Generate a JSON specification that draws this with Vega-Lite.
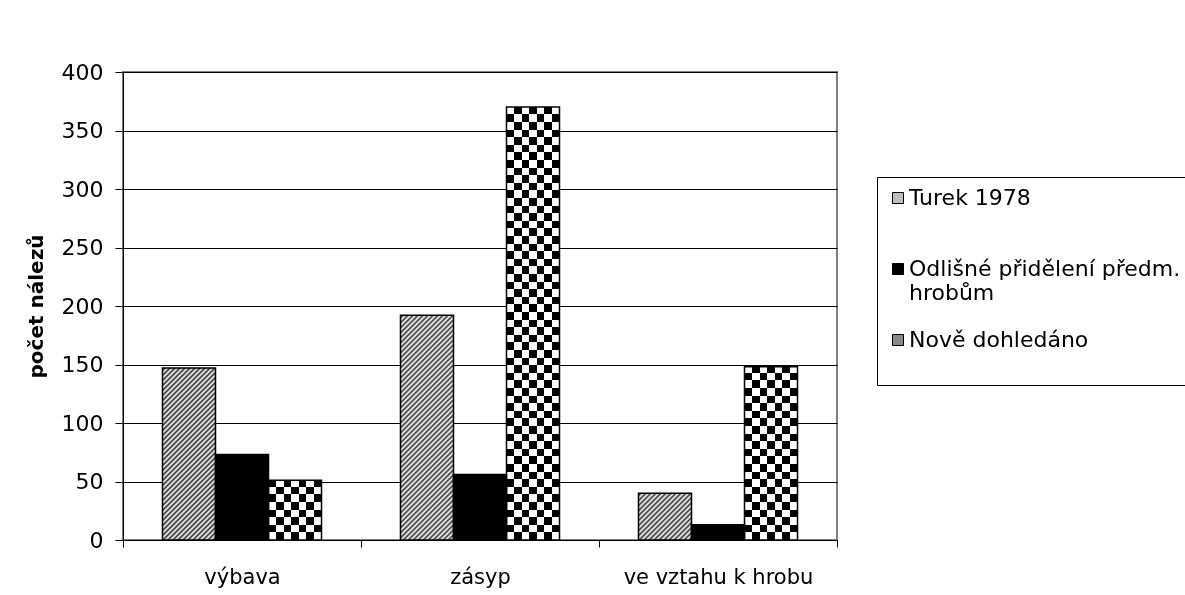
{
  "$schema": "https://vega.github.io/schema/vega-lite/v6.json",
  "width": 714,
  "height": 468,
  "autosize": {"type": "none"},
  "padding": {"left": 123, "top": 72, "right": 348, "bottom": 55},
  "background": "#ffffff",
  "params": [
    {"name": "hs", "value": [
      {"offset":0,"color":"#ffffff"},{"offset":0.00833,"color":"#333333"},{"offset":0.01667,"color":"#ffffff"},{"offset":0.025,"color":"#333333"},{"offset":0.03333,"color":"#ffffff"},{"offset":0.04167,"color":"#333333"},{"offset":0.05,"color":"#ffffff"},{"offset":0.05833,"color":"#333333"},{"offset":0.06667,"color":"#ffffff"},{"offset":0.075,"color":"#333333"},
      {"offset":0.08333,"color":"#ffffff"},{"offset":0.09167,"color":"#333333"},{"offset":0.1,"color":"#ffffff"},{"offset":0.10833,"color":"#333333"},{"offset":0.11667,"color":"#ffffff"},{"offset":0.125,"color":"#333333"},{"offset":0.13333,"color":"#ffffff"},{"offset":0.14167,"color":"#333333"},{"offset":0.15,"color":"#ffffff"},{"offset":0.15833,"color":"#333333"},
      {"offset":0.16667,"color":"#ffffff"},{"offset":0.175,"color":"#333333"},{"offset":0.18333,"color":"#ffffff"},{"offset":0.19167,"color":"#333333"},{"offset":0.2,"color":"#ffffff"},{"offset":0.20833,"color":"#333333"},{"offset":0.21667,"color":"#ffffff"},{"offset":0.225,"color":"#333333"},{"offset":0.23333,"color":"#ffffff"},{"offset":0.24167,"color":"#333333"},
      {"offset":0.25,"color":"#ffffff"},{"offset":0.25833,"color":"#333333"},{"offset":0.26667,"color":"#ffffff"},{"offset":0.275,"color":"#333333"},{"offset":0.28333,"color":"#ffffff"},{"offset":0.29167,"color":"#333333"},{"offset":0.3,"color":"#ffffff"},{"offset":0.30833,"color":"#333333"},{"offset":0.31667,"color":"#ffffff"},{"offset":0.325,"color":"#333333"},
      {"offset":0.33333,"color":"#ffffff"},{"offset":0.34167,"color":"#333333"},{"offset":0.35,"color":"#ffffff"},{"offset":0.35833,"color":"#333333"},{"offset":0.36667,"color":"#ffffff"},{"offset":0.375,"color":"#333333"},{"offset":0.38333,"color":"#ffffff"},{"offset":0.39167,"color":"#333333"},{"offset":0.4,"color":"#ffffff"},{"offset":0.40833,"color":"#333333"},
      {"offset":0.41667,"color":"#ffffff"},{"offset":0.425,"color":"#333333"},{"offset":0.43333,"color":"#ffffff"},{"offset":0.44167,"color":"#333333"},{"offset":0.45,"color":"#ffffff"},{"offset":0.45833,"color":"#333333"},{"offset":0.46667,"color":"#ffffff"},{"offset":0.475,"color":"#333333"},{"offset":0.48333,"color":"#ffffff"},{"offset":0.49167,"color":"#333333"},
      {"offset":0.5,"color":"#ffffff"},{"offset":0.50833,"color":"#333333"},{"offset":0.51667,"color":"#ffffff"},{"offset":0.525,"color":"#333333"},{"offset":0.53333,"color":"#ffffff"},{"offset":0.54167,"color":"#333333"},{"offset":0.55,"color":"#ffffff"},{"offset":0.55833,"color":"#333333"},{"offset":0.56667,"color":"#ffffff"},{"offset":0.575,"color":"#333333"},
      {"offset":0.58333,"color":"#ffffff"},{"offset":0.59167,"color":"#333333"},{"offset":0.6,"color":"#ffffff"},{"offset":0.60833,"color":"#333333"},{"offset":0.61667,"color":"#ffffff"},{"offset":0.625,"color":"#333333"},{"offset":0.63333,"color":"#ffffff"},{"offset":0.64167,"color":"#333333"},{"offset":0.65,"color":"#ffffff"},{"offset":0.65833,"color":"#333333"},
      {"offset":0.66667,"color":"#ffffff"},{"offset":0.675,"color":"#333333"},{"offset":0.68333,"color":"#ffffff"},{"offset":0.69167,"color":"#333333"},{"offset":0.7,"color":"#ffffff"},{"offset":0.70833,"color":"#333333"},{"offset":0.71667,"color":"#ffffff"},{"offset":0.725,"color":"#333333"},{"offset":0.73333,"color":"#ffffff"},{"offset":0.74167,"color":"#333333"},
      {"offset":0.75,"color":"#ffffff"},{"offset":0.75833,"color":"#333333"},{"offset":0.76667,"color":"#ffffff"},{"offset":0.775,"color":"#333333"},{"offset":0.78333,"color":"#ffffff"},{"offset":0.79167,"color":"#333333"},{"offset":0.8,"color":"#ffffff"},{"offset":0.80833,"color":"#333333"},{"offset":0.81667,"color":"#ffffff"},{"offset":0.825,"color":"#333333"},
      {"offset":0.83333,"color":"#ffffff"},{"offset":0.84167,"color":"#333333"},{"offset":0.85,"color":"#ffffff"},{"offset":0.85833,"color":"#333333"},{"offset":0.86667,"color":"#ffffff"},{"offset":0.875,"color":"#333333"},{"offset":0.88333,"color":"#ffffff"},{"offset":0.89167,"color":"#333333"},{"offset":0.9,"color":"#ffffff"},{"offset":0.90833,"color":"#333333"},
      {"offset":0.91667,"color":"#ffffff"},{"offset":0.925,"color":"#333333"},{"offset":0.93333,"color":"#ffffff"},{"offset":0.94167,"color":"#333333"},{"offset":0.95,"color":"#ffffff"},{"offset":0.95833,"color":"#333333"},{"offset":0.96667,"color":"#ffffff"},{"offset":0.975,"color":"#333333"},{"offset":0.98333,"color":"#ffffff"},{"offset":0.99167,"color":"#333333"},
      {"offset":1,"color":"#ffffff"}
    ]},
    {"name": "cs", "value": [
      {"offset":0,"color":"#000000"},
      {"offset":0.016667,"color":"#000000"},{"offset":0.016667,"color":"#ffffff"},{"offset":0.033333,"color":"#ffffff"},{"offset":0.033333,"color":"#000000"},
      {"offset":0.05,"color":"#000000"},{"offset":0.05,"color":"#ffffff"},{"offset":0.066667,"color":"#ffffff"},{"offset":0.066667,"color":"#000000"},
      {"offset":0.083333,"color":"#000000"},{"offset":0.083333,"color":"#ffffff"},{"offset":0.1,"color":"#ffffff"},{"offset":0.1,"color":"#000000"},
      {"offset":0.116667,"color":"#000000"},{"offset":0.116667,"color":"#ffffff"},{"offset":0.133333,"color":"#ffffff"},{"offset":0.133333,"color":"#000000"},
      {"offset":0.15,"color":"#000000"},{"offset":0.15,"color":"#ffffff"},{"offset":0.166667,"color":"#ffffff"},{"offset":0.166667,"color":"#000000"},
      {"offset":0.183333,"color":"#000000"},{"offset":0.183333,"color":"#ffffff"},{"offset":0.2,"color":"#ffffff"},{"offset":0.2,"color":"#000000"},
      {"offset":0.216667,"color":"#000000"},{"offset":0.216667,"color":"#ffffff"},{"offset":0.233333,"color":"#ffffff"},{"offset":0.233333,"color":"#000000"},
      {"offset":0.25,"color":"#000000"},{"offset":0.25,"color":"#ffffff"},{"offset":0.266667,"color":"#ffffff"},{"offset":0.266667,"color":"#000000"},
      {"offset":0.283333,"color":"#000000"},{"offset":0.283333,"color":"#ffffff"},{"offset":0.3,"color":"#ffffff"},{"offset":0.3,"color":"#000000"},
      {"offset":0.316667,"color":"#000000"},{"offset":0.316667,"color":"#ffffff"},{"offset":0.333333,"color":"#ffffff"},{"offset":0.333333,"color":"#000000"},
      {"offset":0.35,"color":"#000000"},{"offset":0.35,"color":"#ffffff"},{"offset":0.366667,"color":"#ffffff"},{"offset":0.366667,"color":"#000000"},
      {"offset":0.383333,"color":"#000000"},{"offset":0.383333,"color":"#ffffff"},{"offset":0.4,"color":"#ffffff"},{"offset":0.4,"color":"#000000"},
      {"offset":0.416667,"color":"#000000"},{"offset":0.416667,"color":"#ffffff"},{"offset":0.433333,"color":"#ffffff"},{"offset":0.433333,"color":"#000000"},
      {"offset":0.45,"color":"#000000"},{"offset":0.45,"color":"#ffffff"},{"offset":0.466667,"color":"#ffffff"},{"offset":0.466667,"color":"#000000"},
      {"offset":0.483333,"color":"#000000"},{"offset":0.483333,"color":"#ffffff"},{"offset":0.5,"color":"#ffffff"},{"offset":0.5,"color":"#000000"},
      {"offset":0.516667,"color":"#000000"},{"offset":0.516667,"color":"#ffffff"},{"offset":0.533333,"color":"#ffffff"},{"offset":0.533333,"color":"#000000"},
      {"offset":0.55,"color":"#000000"},{"offset":0.55,"color":"#ffffff"},{"offset":0.566667,"color":"#ffffff"},{"offset":0.566667,"color":"#000000"},
      {"offset":0.583333,"color":"#000000"},{"offset":0.583333,"color":"#ffffff"},{"offset":0.6,"color":"#ffffff"},{"offset":0.6,"color":"#000000"},
      {"offset":0.616667,"color":"#000000"},{"offset":0.616667,"color":"#ffffff"},{"offset":0.633333,"color":"#ffffff"},{"offset":0.633333,"color":"#000000"},
      {"offset":0.65,"color":"#000000"},{"offset":0.65,"color":"#ffffff"},{"offset":0.666667,"color":"#ffffff"},{"offset":0.666667,"color":"#000000"},
      {"offset":0.683333,"color":"#000000"},{"offset":0.683333,"color":"#ffffff"},{"offset":0.7,"color":"#ffffff"},{"offset":0.7,"color":"#000000"},
      {"offset":0.716667,"color":"#000000"},{"offset":0.716667,"color":"#ffffff"},{"offset":0.733333,"color":"#ffffff"},{"offset":0.733333,"color":"#000000"},
      {"offset":0.75,"color":"#000000"},{"offset":0.75,"color":"#ffffff"},{"offset":0.766667,"color":"#ffffff"},{"offset":0.766667,"color":"#000000"},
      {"offset":0.783333,"color":"#000000"},{"offset":0.783333,"color":"#ffffff"},{"offset":0.8,"color":"#ffffff"},{"offset":0.8,"color":"#000000"},
      {"offset":0.816667,"color":"#000000"},{"offset":0.816667,"color":"#ffffff"},{"offset":0.833333,"color":"#ffffff"},{"offset":0.833333,"color":"#000000"},
      {"offset":0.85,"color":"#000000"},{"offset":0.85,"color":"#ffffff"},{"offset":0.866667,"color":"#ffffff"},{"offset":0.866667,"color":"#000000"},
      {"offset":0.883333,"color":"#000000"},{"offset":0.883333,"color":"#ffffff"},{"offset":0.9,"color":"#ffffff"},{"offset":0.9,"color":"#000000"},
      {"offset":0.916667,"color":"#000000"},{"offset":0.916667,"color":"#ffffff"},{"offset":0.933333,"color":"#ffffff"},{"offset":0.933333,"color":"#000000"},
      {"offset":0.95,"color":"#000000"},{"offset":0.95,"color":"#ffffff"},{"offset":0.966667,"color":"#ffffff"},{"offset":0.966667,"color":"#000000"},
      {"offset":0.983333,"color":"#000000"},{"offset":0.983333,"color":"#ffffff"},{"offset":1,"color":"#ffffff"}
    ]}
  ],
  "data": {
    "values": [
      {"kat": "výbava", "serie": "Turek 1978", "n": 147},
      {"kat": "výbava", "serie": "Odlišné přidělení předm. hrobům", "n": 73},
      {"kat": "výbava", "serie": "Nově dohledáno", "n": 51},
      {"kat": "zásyp", "serie": "Turek 1978", "n": 192},
      {"kat": "zásyp", "serie": "Odlišné přidělení předm. hrobům", "n": 56},
      {"kat": "zásyp", "serie": "Nově dohledáno", "n": 370},
      {"kat": "ve vztahu k hrobu", "serie": "Turek 1978", "n": 40},
      {"kat": "ve vztahu k hrobu", "serie": "Odlišné přidělení předm. hrobům", "n": 13},
      {"kat": "ve vztahu k hrobu", "serie": "Nově dohledáno", "n": 148}
    ]
  },
  "encoding": {
    "x": {
      "field": "kat", "type": "nominal",
      "sort": ["výbava", "zásyp", "ve vztahu k hrobu"],
      "scale": {"paddingInner": 0, "paddingOuter": 0},
      "axis": {
        "title": null, "labelAngle": 0, "tickBand": "extent", "tickSize": 7,
        "labelFontSize": 21, "labelPadding": 19, "labelLimit": 400, "grid": false
      }
    },
    "xOffset": {
      "field": "serie", "type": "nominal",
      "scale": {"domain": ["Turek 1978", "Odlišné přidělení předm. hrobům", "Nově dohledáno"], "paddingInner": 0, "paddingOuter": 0.745}
    },
    "y": {
      "field": "n", "type": "quantitative", "stack": null,
      "scale": {"domain": [0, 400], "nice": false},
      "axis": {
        "title": "počet nálezů", "values": [0, 50, 100, 150, 200, 250, 300, 350, 400],
        "grid": true, "gridColor": "#000000", "gridWidth": 1, "tickSize": 8,
        "labelFontSize": 22, "labelPadding": 12,
        "titleFontSize": 20, "titleFontWeight": "bold", "titlePadding": 15
      }
    }
  },
  "layer": [
    {
      "mark": {"type": "bar"},
      "encoding": {
        "color": {
          "field": "serie", "type": "nominal",
          "scale": {
            "domain": ["Turek 1978", "Odlišné přidělení předm. hrobům", "Nově dohledáno"],
            "range": ["#bdbdbd", "#000000", "#8a8a8a"]
          },
          "legend": {
            "orient": "none", "legendX": 754, "legendY": 105, "title": null,
            "strokeColor": "#000000", "padding": 10,
            "symbolType": "square", "symbolSize": 121, "symbolStrokeColor": "#000000", "symbolStrokeWidth": 1,
            "labelFontSize": 22, "labelColor": "#000000", "labelOffset": 0, "labelLimit": 500,
            "rowPadding": 25,
            "labelExpr": "datum.label == 'Odlišné přidělení předm. hrobům' ? ['Odlišné přidělení předm.', 'hrobům'] : [datum.label, '']"
          }
        }
      }
    },
    {
      "transform": [{"filter": "datum.serie == 'Turek 1978'"}],
      "mark": {
        "type": "bar",
        "fill": {"expr": "{gradient: 'linear', x1: 0, y1: 0, x2: 300*bandwidth('xOffset')/(pow(bandwidth('xOffset'),2)+pow(scale('y',0)-scale('y',datum.n),2)), y2: 300*(scale('y',0)-scale('y',datum.n))/(pow(bandwidth('xOffset'),2)+pow(scale('y',0)-scale('y',datum.n),2)), stops: hs}"}
      }
    },
    {
      "transform": [{"filter": "datum.serie == 'Nově dohledáno'"}],
      "mark": {
        "type": "bar",
        "fill": {"expr": "{gradient: 'linear', x1: 0, y1: 1, x2: 0, y2: 1 - 456/(scale('y',0)-scale('y',datum.n)), stops: cs}"}
      }
    },
    {
      "transform": [{"filter": "datum.serie == 'Nově dohledáno'"}],
      "mark": {
        "type": "bar",
        "blend": "difference",
        "fill": {"gradient": "linear", "x1": 0, "y1": 0, "x2": 1, "y2": 0, "stops": [
          {"offset": 0, "color": "#ffffff"}, {"offset": 0.142857, "color": "#ffffff"}, {"offset": 0.142857, "color": "#000000"},
          {"offset": 0.285714, "color": "#000000"}, {"offset": 0.285714, "color": "#ffffff"}, {"offset": 0.428571, "color": "#ffffff"},
          {"offset": 0.428571, "color": "#000000"}, {"offset": 0.571429, "color": "#000000"}, {"offset": 0.571429, "color": "#ffffff"},
          {"offset": 0.714286, "color": "#ffffff"}, {"offset": 0.714286, "color": "#000000"}, {"offset": 0.857143, "color": "#000000"},
          {"offset": 0.857143, "color": "#ffffff"}, {"offset": 1, "color": "#ffffff"}]}
      }
    },
    {
      "mark": {"type": "bar", "filled": false, "stroke": "#000000", "strokeWidth": 1.5}
    }
  ],
  "config": {
    "font": "DejaVu Sans",
    "view": {"stroke": "#808080", "strokeWidth": 2},
    "axis": {
      "labelFont": "DejaVu Sans", "titleFont": "DejaVu Sans",
      "labelColor": "#000000", "titleColor": "#000000",
      "domainColor": "#000000", "tickColor": "#000000", "domainWidth": 1
    },
    "legend": {"labelFont": "DejaVu Sans"}
  }
}
